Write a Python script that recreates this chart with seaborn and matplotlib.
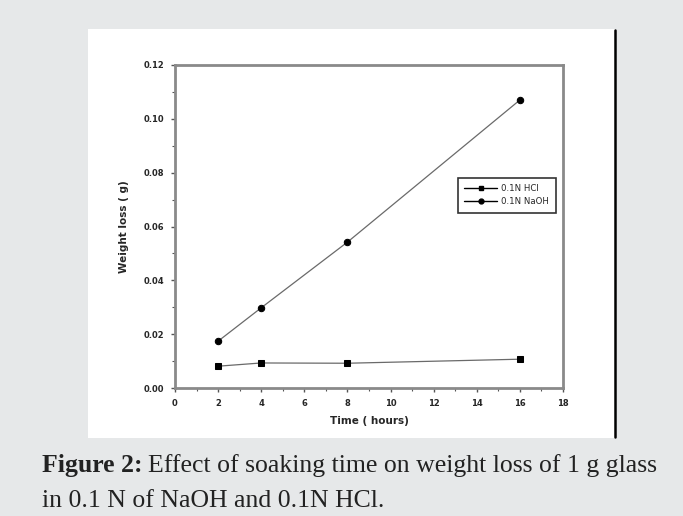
import pandas as pd
import matplotlib.pyplot as plt
import seaborn as sns
from matplotlib.patches import Rectangle
from matplotlib.lines import Line2D
from matplotlib.ticker import MultipleLocator, FormatStrFormatter

# Data
time_h = [2, 4, 8, 16]
hcl_loss = [0.0081, 0.0093, 0.0092, 0.0107]
naoh_loss = [0.0174, 0.0298, 0.0542, 0.1070]
labels = ['0.1N HCl', '0.1N NaOH']

df = pd.DataFrame({
    'Time': time_h * 2,
    'Loss': hcl_loss + naoh_loss,
    'Solution': [labels[0]] * len(time_h) + [labels[1]] * len(time_h),
})

sns.set_style('ticks')
plt.rcParams['font.family'] = ['DejaVu Sans']

W, H = 683, 516
fig = plt.figure(figsize=(W / 100, H / 100), dpi=100, facecolor='#e6e8e9')

# white panel behind the chart + black right border line
fig.patches.append(Rectangle((88 / W, 1 - 438 / H), (615 - 88) / W, (438 - 29) / H,
                             transform=fig.transFigure, facecolor='white',
                             edgecolor='none', zorder=-10))
fig.lines.append(Line2D([615 / W, 615 / W], [1 - 437 / H, 1 - 30 / H],
                        transform=fig.transFigure, color='black', lw=1.8,
                        zorder=-5))

ax = fig.add_axes([175 / W, 1 - 388 / H, (563 - 175) / W, (388 - 65) / H])
ax.set_zorder(5)
ax.set_facecolor('white')

sns.lineplot(data=df, x='Time', y='Loss', hue='Solution', style='Solution',
             markers=['s', 'o'], dashes=False, palette=['#6a6a6a', '#6a6a6a'],
             linewidth=0.9, markersize=4.6, legend=False, ax=ax)
for ln in ax.get_lines():
    ln.set_markerfacecolor('black')
    ln.set_markeredgecolor('black')

ax.set_xlim(0, 18)
ax.set_ylim(0, 0.12)
ax.xaxis.set_major_locator(MultipleLocator(2))
ax.xaxis.set_minor_locator(MultipleLocator(1))
ax.yaxis.set_major_locator(MultipleLocator(0.02))
ax.yaxis.set_minor_locator(MultipleLocator(0.01))
ax.yaxis.set_major_formatter(FormatStrFormatter('%.2f'))

for s in ax.spines.values():
    s.set_visible(True)
    s.set_color('#8a8a8a')
    s.set_linewidth(2)
ax.tick_params(which='major', length=3, width=1, color='#555555', labelsize=6,
               pad=5)
ax.tick_params(which='minor', length=2, width=0.8, color='#555555')
for t in ax.get_xticklabels() + ax.get_yticklabels():
    t.set_fontweight('bold')

ax.set_xlabel('Time ( hours)', fontsize=7.5, fontweight='bold', labelpad=6)
ax.set_ylabel('Weight loss ( g)', fontsize=7.5, fontweight='bold', labelpad=10)

handles = [Line2D([], [], color='black', lw=1, marker=m, markersize=3.5)
           for m in ['s', 'o']]
leg = ax.legend(handles, labels, loc='upper left',
                bbox_to_anchor=((458 - 175) / (563 - 175), 1 - (178 - 65) / (388 - 65)),
                fontsize=6.2, frameon=True, fancybox=False, borderpad=0.75,
                handlelength=3.8, handletextpad=0.5, labelspacing=0.45,
                borderaxespad=0)
leg.get_frame().set_edgecolor('black')
leg.get_frame().set_linewidth(1.2)

# caption
cap_size = 18.5
cap1 = fig.text(42 / W, 1 - 472 / H, 'Figure 2:', fontsize=cap_size,
                family='Liberation Serif', fontweight='bold', va='baseline',
                ha='left', color='#222222')
fig.canvas.draw()
bb = cap1.get_window_extent()
fig.text(bb.x1 / W + 5 / W, 1 - 472 / H,
         'Effect of soaking time on weight loss of 1 g glass',
         fontsize=cap_size, family='Liberation Serif', va='baseline', ha='left',
         color='#222222')
fig.text(42 / W, 1 - 507 / H, 'in 0.1 N of NaOH and 0.1N HCl.', fontsize=cap_size,
         family='Liberation Serif', va='baseline', ha='left', color='#222222')

fig.savefig('out.png', dpi=100, facecolor=fig.get_facecolor())
